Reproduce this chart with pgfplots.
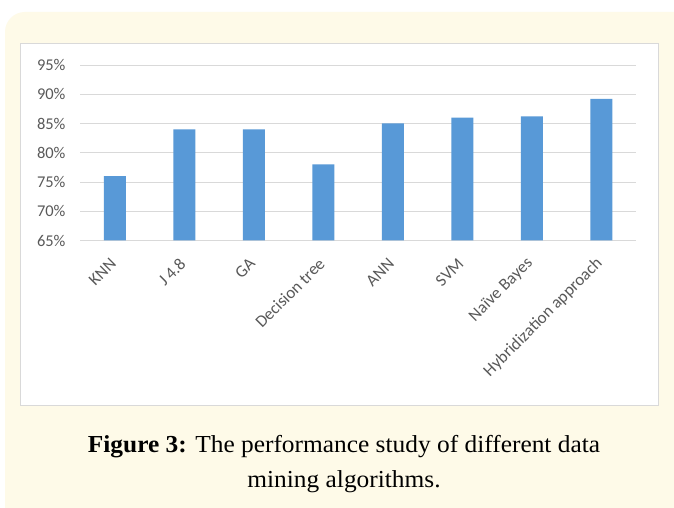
\documentclass[border=0pt]{standalone}
\usepackage{pgfplots}
\pgfplotsset{compat=1.18}
\usepackage{fontspec}
\setmainfont{Liberation Serif}
\newfontfamily\carlito{Carlito}
\definecolor{cream}{HTML}{FEFAE8}
\definecolor{boxline}{HTML}{D9D9D9}
\definecolor{barblue}{HTML}{5899D7}
\definecolor{ticktext}{HTML}{595959}
\begin{document}
\begin{tikzpicture}[x=1bp,y=1bp]
\clip (0,0) rectangle (674,508);
\fill[white] (0,0) rectangle (674,508);
\fill[cream, rounded corners=20bp] (5,-30) rectangle (700,496);
\filldraw[fill=white, draw=boxline, line width=1bp] (20,102) rectangle (658,464);
\begin{axis}[
  at={(80bp,267.5bp)}, anchor=south west,
  width=556bp, height=175.5bp, scale only axis,
  xmin=-0.5, xmax=7.5, ymin=65, ymax=95,
  ytick={65,70,75,80,85,90,95},
  yticklabels={65\%,70\%,75\%,80\%,85\%,90\%,95\%},
  xtick={0,1,2,3,4,5,6,7},
  xticklabels={KNN,J 4.8,GA,Decision tree,ANN,SVM,Naïve Bayes,Hybridization approach},
  /pgf/number format/assume math mode=true,
  ymajorgrids, grid style={color=boxline, line width=0.9bp},
  axis line style={draw=none},
  tick style={draw=none},
  ticklabel style={font=\carlito\fontsize{16.5}{18}\selectfont, text=ticktext},
  yticklabel style={anchor=east, xshift=-11bp},
  xticklabel style={xshift=1bp, yshift=-18bp, rotate=45, anchor=east, font=\carlito\fontsize{17}{18}\selectfont},
  clip=false,
]
\addplot[ybar, bar width=22bp, fill=barblue, draw=none] coordinates {
  (0,76) (1,84) (2,84) (3,78) (4,85) (5,86) (6,86.2) (7,89.2)
};
\end{axis}
\node[anchor=base, font=\fontsize{24.5}{30}\selectfont] at (344,55) {\scalebox{1.04}[1]{\textbf{Figure 3:} The performance study of different data}};
\node[anchor=base, font=\fontsize{24.5}{30}\selectfont] at (344,20) {\scalebox{1.04}[1]{mining algorithms.}};
\end{tikzpicture}
\end{document}
